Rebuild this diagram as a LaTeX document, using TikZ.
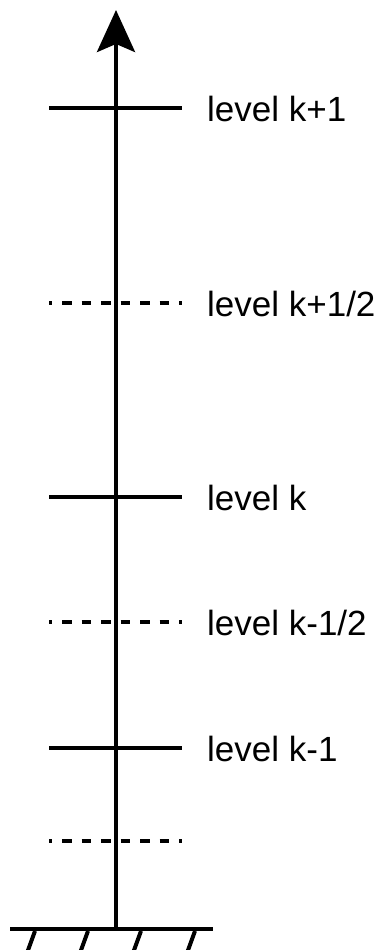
\documentclass[tikz,border=0pt]{standalone}
\usepackage{fontspec}
\setmainfont{Liberation Sans}
\usetikzlibrary{arrows.meta}

\tikzset{
  full/.style = {line width=4pt},
  half/.style = {line width=4pt, dash pattern=on 9.5pt off 10pt, dash phase=6.5pt},
  lab/.style = {anchor=base west, inner sep=0pt, font=\fontsize{35}{40}\selectfont}
}

\begin{document}
\begin{tikzpicture}[x=1pt, y=-1pt]
\useasboundingbox (0, 0) rectangle (378, 950);
% vertical axis
\coordinate (base) at (116, 929);
\coordinate (top) at (116, 10);
\draw[full, -{Stealth[length=42pt, width=38pt, inset=8pt]}] (base) -- (top);
% levels
\coordinate (kp1l) at (49, 108); \coordinate (kp1r) at (182, 108);
\coordinate (khpl) at (49, 303); \coordinate (khpr) at (182, 303);
\coordinate (kl) at (49, 497); \coordinate (kr) at (182, 497);
\coordinate (khml) at (49, 622); \coordinate (khmr) at (182, 622);
\coordinate (km1l) at (49, 748); \coordinate (km1r) at (182, 748);
\coordinate (lowl) at (49, 841); \coordinate (lowr) at (182, 841);
\draw[full] (kp1l) -- (kp1r) (kl) -- (kr) (km1l) -- (km1r);
\draw[half] (khpl) -- (khpr) (khml) -- (khmr) (lowl) -- (lowr);
\node[lab] (kp1) at (207, 121) {level k+1};
\node[lab] (khp) at (207, 316) {level k+1/2};
\node[lab] (k) at (207, 510) {level k};
\node[lab] (khm) at (207, 635) {level k-1/2};
\node[lab] (km1) at (207, 761) {level k-1};
% ground
\coordinate (gl) at (10, 929);
\coordinate (gr) at (213, 929);
\draw[line width=4.5pt] (gl) -- (gr);
\foreach \x in {35, 88, 141, 195}
  \draw[full] (\x, 931) -- (\x-8, 953);
\end{tikzpicture}
\end{document}
